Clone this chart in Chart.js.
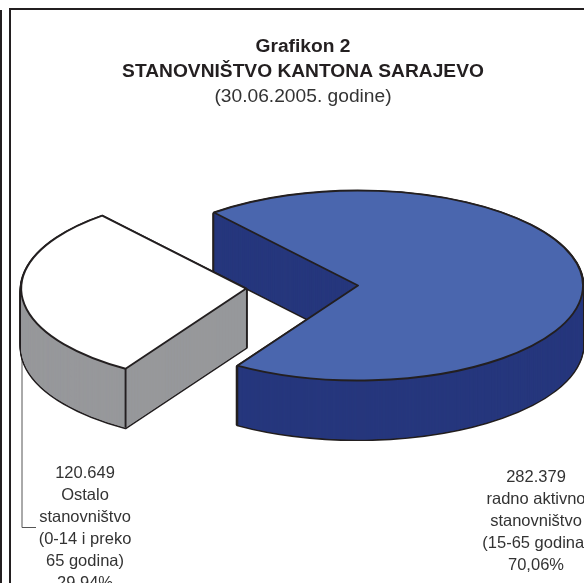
<!DOCTYPE html>
<html>
<head>
<meta charset="utf-8">
<title>Grafikon 2</title>
<script src="https://cdn.jsdelivr.net/npm/chart.js@4"></script>
<style>
    html, body { margin: 0; padding: 0; background: #fff; overflow: hidden; }
    canvas { display: block; }
</style>
</head>
<body>
<canvas id="pie3d" width="584" height="583"></canvas>
<script>
const categories = ["radno aktivno stanovništvo", "Ostalo stanovništvo"];
const population = [282379, 120649];
const explode = [0, 112];   // pomak isječka
const topColors = ["#4a66ae", "#ffffff"];
const wallColors = ["#26377d", "#97989b"];

const titleLines = ["Grafikon 2", "STANOVNIŠTVO KANTONA SARAJEVO"];
const subtitleLine = "(30.06.2005. godine)";
const labelActive = ["282.379", "radno aktivno", "stanovništvo", "(15-65 godina)", "70,06%"];
const labelOther = ["120.649", "Ostalo", "stanovništvo", "(0-14 i preko", "65 godina)", "29,94%"];

const INK = "#231f20";
const CX = 358, CY = 285.5;   // centar elipse na slici
const SQUASH = 95 / 225;      // nagib "3D" pogleda
const DEPTH = 59;

// pozicija isječka: library daje uglove, ovdje ih samo spljoštimo
function sliceCenter(arc, i) {
    const mid = (arc.startAngle + arc.endAngle) / 2;
    return {
        x: CX + Math.cos(mid) * explode[i],
        y: CY + Math.sin(mid) * explode[i] * SQUASH
    };
}

function slicePath(ctx, arc, c, dz) {
    const ry = arc.outerRadius * SQUASH;
    ctx.beginPath();
    ctx.moveTo(c.x, c.y + dz);
    ctx.ellipse(c.x, c.y + dz, arc.outerRadius, ry, 0, arc.startAngle, arc.endAngle);
    ctx.closePath();
}

const pie3dPlugin = {
    id: "pie3d",
    beforeDraw(chart) {
        const ctx = chart.ctx;
        ctx.save();
        ctx.strokeStyle = INK;
        ctx.lineWidth = 2;
        ctx.beginPath();
        ctx.moveTo(1, 10);
        ctx.lineTo(1, 583);
        ctx.moveTo(10, 583);
        ctx.lineTo(10, 9);
        ctx.lineTo(584, 9);
        ctx.stroke();

        // linija do natpisa
        ctx.strokeStyle = "#555";
        ctx.lineWidth = 1;
        ctx.beginPath();
        ctx.moveTo(22, 300);
        ctx.lineTo(22, 527.5);
        ctx.lineTo(36, 527.5);
        ctx.stroke();
        ctx.restore();
    },
    beforeDatasetsDraw(chart) {
        const ctx = chart.ctx;
        chart.getDatasetMeta(0).data.forEach((arc, i) => {
            const c = sliceCenter(arc, i);
            ctx.save();
            ctx.lineJoin = "round";
            ctx.strokeStyle = INK;

            // bocne stranice: prvo obris (pola ga pokrije ispuna), pa ispuna
            ctx.lineWidth = 3.2;
            for (let z = DEPTH; z > 0; z--) {
                slicePath(ctx, arc, c, z);
                ctx.stroke();
            }
            ctx.fillStyle = wallColors[i];
            for (let pass = 0; pass < 2; pass++) {
                for (let z = DEPTH; z > 0; z--) {
                    slicePath(ctx, arc, c, z);
                    ctx.fill();
                }
            }

            // gornja ploha
            ctx.save();
            ctx.translate(c.x, c.y);
            ctx.scale(1, SQUASH);
            ctx.translate(-arc.x, -arc.y);
            arc.draw(ctx);
            ctx.restore();

            ctx.lineWidth = 1.9;
            slicePath(ctx, arc, c, 0);
            ctx.stroke();

            // vertikalna ivica na prednjoj strani
            [arc.startAngle, arc.endAngle].forEach(a => {
                if (Math.sin(a) <= 0) return;
                const px = c.x + Math.cos(a) * arc.outerRadius;
                const py = c.y + Math.sin(a) * arc.outerRadius * SQUASH;
                ctx.beginPath();
                ctx.moveTo(px, py);
                ctx.lineTo(px, py + DEPTH);
                ctx.stroke();
            });
            ctx.restore();
        });
        return false;
    },
    afterDraw(chart) {
        const ctx = chart.ctx;
        ctx.save();
        ctx.font = "16.5px 'Liberation Sans'";
        ctx.fillStyle = "#333";
        ctx.textAlign = "center";
        labelOther.forEach((t, i) => ctx.fillText(t, 85, 478 + i * 22));
        labelActive.forEach((t, i) => ctx.fillText(t, 536, 482 + i * 22));
        ctx.restore();
    }
};

new Chart(document.getElementById("pie3d"), {
    type: "pie",
    data: {
        labels: categories,
        datasets: [{
            data: population,
            backgroundColor: topColors,
            borderWidth: 0
        }]
    },
    options: {
        responsive: false,
        animation: false,
        rotation: -39.8,
        radius: 225,
        layout: { padding: { top: 26, left: 22 } },
        plugins: {
            legend: { display: false },
            tooltip: { enabled: false },
            title: {
                display: true,
                text: titleLines,
                color: INK,
                font: { family: "'Liberation Sans'", size: 19.2, weight: "bold", lineHeight: 1.3 },
                padding: { top: 8, bottom: 0 }
            },
            subtitle: {
                display: true,
                text: subtitleLine,
                color: "#333",
                font: { family: "'Liberation Sans'", size: 19.2, weight: "normal", lineHeight: 1.3 },
                padding: { top: 0, bottom: 0 }
            }
        }
    },
    plugins: [pie3dPlugin]
});
</script>
</body>
</html>
